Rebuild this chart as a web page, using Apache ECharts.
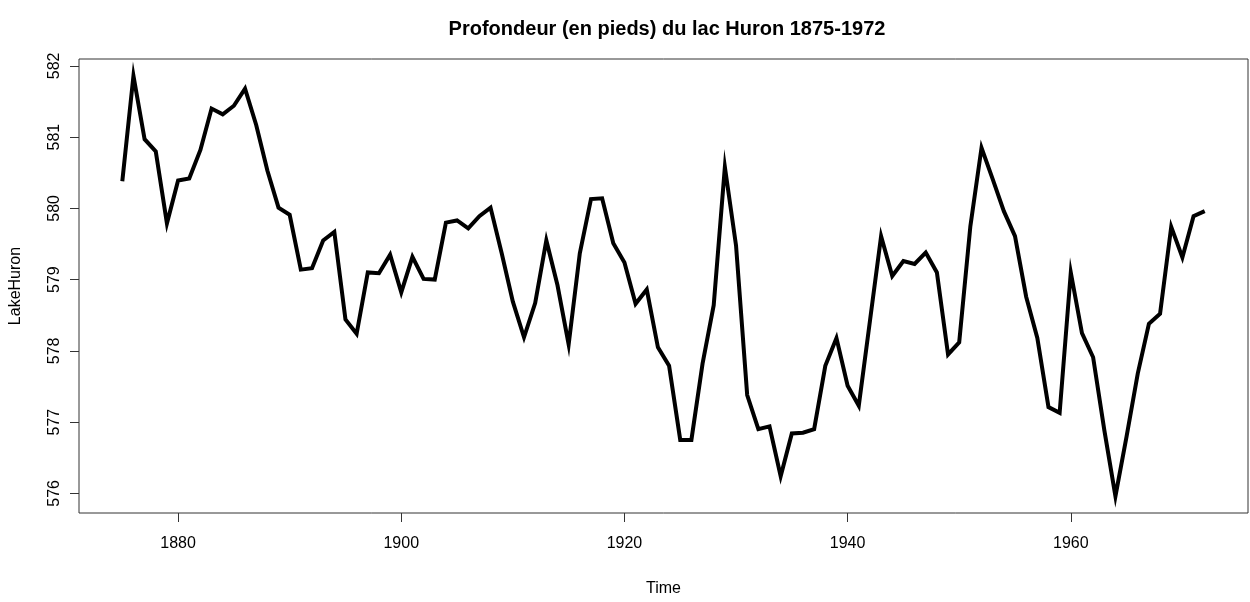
<!DOCTYPE html>
<html>
<head>
<meta charset="utf-8">
<script src="https://cdn.jsdelivr.net/npm/echarts@6/dist/echarts.min.js"></script>
<style>
  html, body { margin: 0; padding: 0; background: #fff; }
  #main { width: 1250px; height: 602px; }
</style>
</head>
<body>
<div id="main"></div>
<script>
  // niveau annuel du lac Huron (pieds)
  var firstYear = 1875;
  var lakeHuron = [
    580.38, 581.86, 580.97, 580.80, 579.79, 580.39, 580.42, 580.82, 581.40, 581.32,
    581.44, 581.68, 581.17, 580.53, 580.01, 579.91, 579.14, 579.16, 579.55, 579.67,
    578.44, 578.24, 579.10, 579.09, 579.35, 578.82, 579.32, 579.01, 579.00, 579.80,
    579.83, 579.72, 579.89, 580.01, 579.37, 578.69, 578.19, 578.67, 579.55, 578.92,
    578.09, 579.37, 580.13, 580.14, 579.51, 579.24, 578.66, 578.86, 578.05, 577.79,
    576.75, 576.75, 577.82, 578.64, 580.58, 579.48, 577.38, 576.90, 576.94, 576.24,
    576.84, 576.85, 576.90, 577.79, 578.18, 577.51, 577.23, 578.42, 579.61, 579.05,
    579.26, 579.22, 579.38, 579.10, 577.95, 578.12, 579.75, 580.85, 580.41, 579.96,
    579.61, 578.76, 578.18, 577.21, 577.13, 579.10, 578.25, 577.91, 576.89, 575.96,
    576.80, 577.68, 578.38, 578.52, 579.74, 579.31, 579.89, 579.96
  ];
  var xTicks = [1880, 1900, 1920, 1940, 1960];
  var yTicks = [576, 577, 578, 579, 580, 581, 582];

  var data = lakeHuron.map(function (v, i) { return [firstYear + i, v]; });

  // marges type R : 4% de chaque côté
  var x0 = firstYear, x1 = firstYear + lakeHuron.length - 1;
  var y0 = Math.min.apply(null, lakeHuron), y1 = Math.max.apply(null, lakeHuron);
  var dx = (x1 - x0) * 0.04, dy = (y1 - y0) * 0.04;

  var font = 'Liberation Sans, Arial, Helvetica, sans-serif';
  var myChart = echarts.init(document.getElementById('main'));
  myChart.setOption({
    backgroundColor: '#fff',
    animation: false,
    title: {
      text: 'Profondeur (en pieds) du lac Huron 1875-1972',
      left: 662,
      textAlign: 'center',
      top: 14,
      textStyle: { fontFamily: font, fontSize: 20, fontWeight: 'bold', color: '#000' }
    },
    grid: {
      left: 77.5, right: 2, top: 59, bottom: 81.5,
      show: true, borderColor: '#333', borderWidth: 1, backgroundColor: 'transparent'
    },
    xAxis: {
      type: 'value',
      min: x0 - dx,
      max: x1 + dx,
      name: 'Time',
      nameLocation: 'middle',
      nameGap: 68,
      nameTextStyle: { fontFamily: font, fontSize: 16, color: '#000' },
      axisLine: { show: false },
      splitLine: { show: false },
      axisTick: { show: true, inside: false, length: 9, customValues: xTicks, lineStyle: { color: '#333' } },
      axisLabel: {
        customValues: xTicks, fontFamily: font, fontSize: 16, color: '#000', margin: 23,
        formatter: function (v) { return String(Math.round(v)); }
      }
    },
    yAxis: {
      type: 'value',
      min: y0 - dy,
      max: y1 + dy,
      name: 'LakeHuron',
      nameLocation: 'middle',
      nameGap: 55,
      nameTextStyle: { fontFamily: font, fontSize: 16, color: '#000' },
      axisLine: { show: false },
      splitLine: { show: false },
      axisTick: { show: true, inside: false, length: 9, customValues: yTicks, lineStyle: { color: '#333' } },
      axisLabel: { customValues: yTicks, rotate: 90, fontFamily: font, fontSize: 16, color: '#000', margin: 16 }
    },
    series: [{
      type: 'line',
      data: data,
      showSymbol: false,
      symbol: 'none',
      lineStyle: { color: '#000', width: 4, join: 'miter' }
    }]
  });
</script>
</body>
</html>
